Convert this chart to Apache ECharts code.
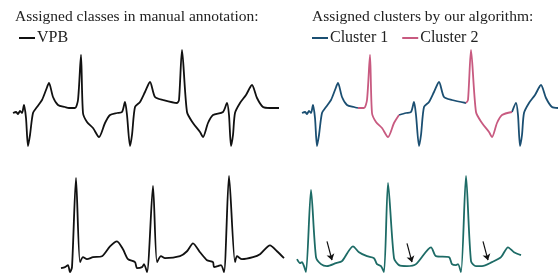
<!DOCTYPE html>
<html>
<head>
<meta charset="utf-8">
<script src="https://cdn.jsdelivr.net/npm/echarts@6/dist/echarts.min.js"></script>
<style>
  html, body { margin: 0; padding: 0; background: #fff; }
  #main { width: 558px; height: 279px; }
</style>
</head>
<body>
<div id="main"></div>
<script>
// ECG: sample index, amplitude
var vpbT = [13,16,18,20,22,24,26,28,30,33,37,42,46,49,53,58,65,69,75,78,81,83,87,93,99,105,110,117,122,125,127,130,132,135,140,145,150,155,163,177,179,182,187,193,200,203,208,213,223,227,229,231,233,235,240,246,252,257,263,270,279];
var vpbV = [37,38,36,39,37,45,32,4,15,37,43,50,60,67,53,45,43,42,42,50,95,37,28,22,13,27,35,37,38,48,35,4,15,43,48,58,68,53,50,47,50,100,38,27,18,13,27,35,38,47,35,4,15,37,47,55,65,52,43,42,42];
// sample ranges assigned to cluster 2
var cluster2Ranges = [[69,110],[177,223]];

var normT = [61,65,68,70,72,76,80,83,87,93,102,110,117,123,128,135,137,142,144,147,153,157,161,165,180,187,193,200,207,213,214,218,221,224,229,235,237,242,253,260,270,277,284];
var normV = [11,12,14,7,12,102,17,22,20,22,23,33,38,30,20,17,11,12,15,7,94,17,23,21,23,28,36,27,19,17,12,13,14,7,104,17,23,20,22,25,34,28,21];

var clustT = [62,65,67,69,71,76,81,86,92,101,107,118,124,132,139,142,146,149,153,159,164,172,181,196,201,214,217,221,223,226,231,236,241,247,257,266,273,279,286];
var clustV = [20,16,17,13,7,90,22,15,13,16,18,33,27,23,21,15,13,7,97,21,14,13,15,32,23,22,15,14,15,7,104,18,13,13,17,22,32,27,24];

// arrows: [x0, y0, x1, y1]
var arrows = [[92,38,97,19],[172,36,177,17],[248,38,253,19]];

function pairs(t, v) {
  return t.map(function (x, i) { return [x, v[i]]; });
}
function inPink(x) {
  return cluster2Ranges.some(function (r) { return x >= r[0] && x <= r[1]; });
}
function onEdge(x) {
  return cluster2Ranges.some(function (r) { return x === r[0] || x === r[1]; });
}
var c1 = vpbT.map(function (x, i) { return (!inPink(x) || onEdge(x)) ? [x, vpbV[i]] : [x, '-']; });
var c2 = vpbT.map(function (x, i) { return inPink(x) ? [x, vpbV[i]] : [x, '-']; });

var serif = '"Liberation Serif", "DejaVu Serif", serif';
var black = '#111111', blue = '#1b4f72', pink = '#c85a80', teal = '#1d6b66';

var chart = echarts.init(document.getElementById('main'));

function ax(max, idx) {
  return { type: 'value', min: 0, max: max, gridIndex: idx, show: false };
}
function ecg(name, data, color, xi) {
  return {
    name: name, type: 'line', xAxisIndex: xi, yAxisIndex: xi,
    data: data, showSymbol: false, symbol: 'none', smooth: 0.25,
    lineStyle: { color: color, width: 1.8 }, itemStyle: { color: color },
    connectNulls: false, animation: false
  };
}

var option = {
  backgroundColor: '#fff',
  animation: false,
  title: [
    { text: 'Assigned classes in manual annotation:', left: 10, top: 4,
      textStyle: { fontFamily: serif, fontSize: 15.5, fontWeight: 'normal', color: '#222' } },
    { text: 'Assigned clusters by our algorithm:', left: 307, top: 4,
      textStyle: { fontFamily: serif, fontSize: 15.5, fontWeight: 'normal', color: '#222' } }
  ],
  legend: [
    { data: ['VPB'], left: 19, top: 30, padding: 0, icon: 'rect', itemWidth: 16, itemHeight: 2,
      textStyle: { fontFamily: serif, fontSize: 16, color: '#222', padding: [0, 0, 0, -3] } },
    { data: ['Cluster 1', 'Cluster 2'], left: 312, top: 30, padding: 0, icon: 'rect',
      itemWidth: 16, itemHeight: 2, itemGap: 14,
      textStyle: { fontFamily: serif, fontSize: 16, color: '#222', padding: [0, 0, 0, -3] } }
  ],
  grid: [
    { left: 0, top: 40, width: 290, height: 110 },
    { left: 289, top: 40, width: 269, height: 110 },
    { left: 0, top: 170, width: 290, height: 110 },
    { left: 235, top: 170, width: 323, height: 110 }
  ],
  xAxis: [ax(290, 0), ax(269, 1), ax(290, 2), ax(323, 3)],
  yAxis: [ax(110, 0), ax(110, 1), ax(110, 2), ax(110, 3)],
  series: [
    ecg('VPB', pairs(vpbT, vpbV), black, 0),
    ecg('Cluster 1', c1, blue, 1),
    ecg('Cluster 2', c2, pink, 1),
    ecg('normal', pairs(normT, normV), black, 2),
    ecg('reconstructed', pairs(clustT, clustV), teal, 3),
    {
      type: 'lines', coordinateSystem: 'cartesian2d', xAxisIndex: 3, yAxisIndex: 3,
      symbol: ['none', 'arrow'], symbolSize: 6,
      lineStyle: { color: '#111', width: 1.2, opacity: 1 },
      data: arrows.map(function (a) { return { coords: [[a[0], a[1]], [a[2], a[3]]] }; }),
      animation: false
    }
  ]
};
chart.setOption(option);
</script>
</body>
</html>
